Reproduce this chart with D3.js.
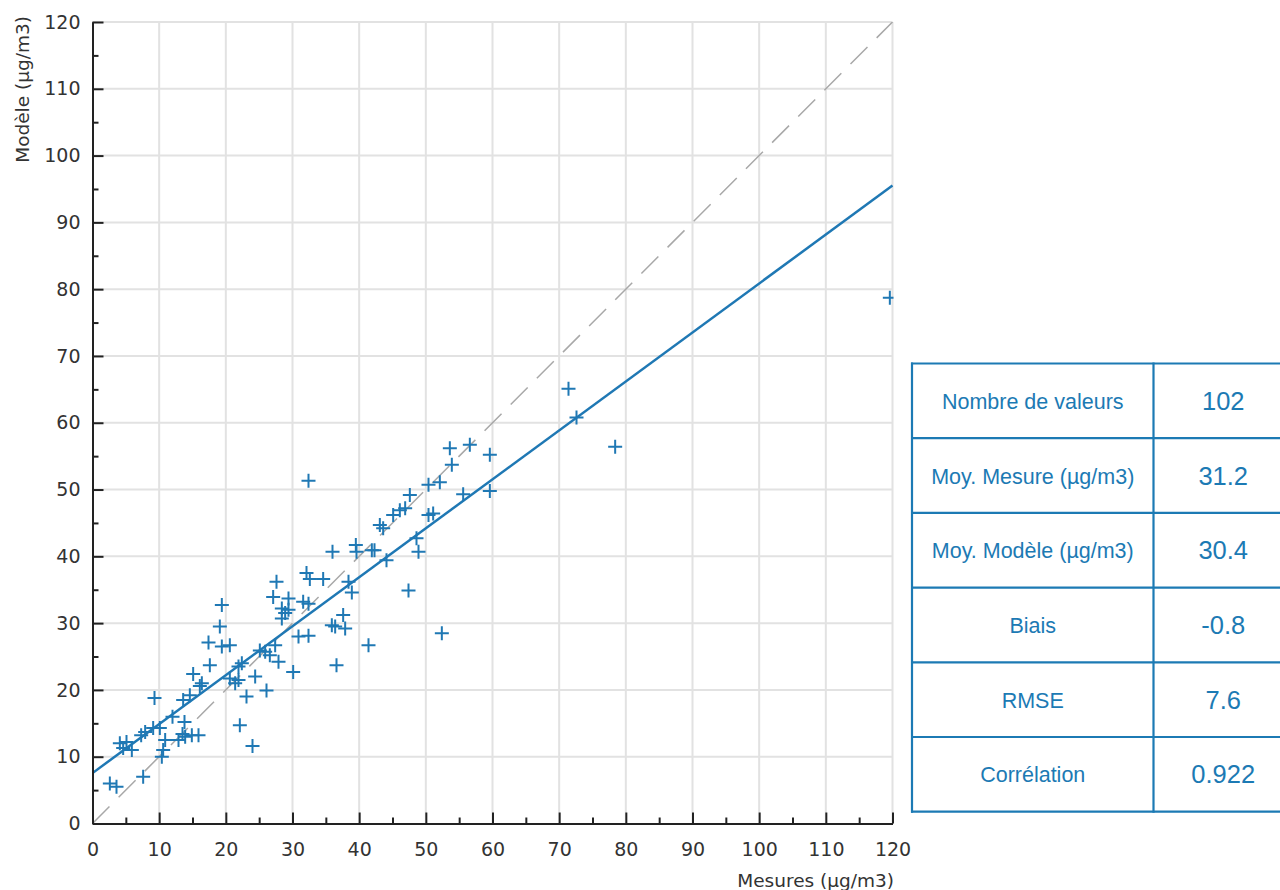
<!DOCTYPE html>
<html>
<head>
<meta charset="utf-8">
<script src="https://cdn.jsdelivr.net/npm/d3@7"></script>
<style>
  html, body { margin: 0; padding: 0; background: #ffffff; }
  svg { display: block; }
</style>
</head>
<body>
<svg id="chart" width="1280" height="890"></svg>
<script>
// Measured vs. modelled concentrations (µg/m3)
const mesures = [
  2.6, 3.6, 7.6, 4.1, 5.1, 4.6, 5.9, 7.3, 7.9, 9.1, 10.1, 10.9, 10.6, 10.4, 12.0, 12.9,
  13.9, 14.9, 15.9, 13.8, 9.3, 13.6, 14.6, 15.1, 16.4, 17.6, 17.4, 19.1, 19.4, 19.4,
  20.6, 20.6, 21.4, 21.9, 22.4, 22.1, 23.1, 24.0, 24.4, 25.1, 25.9, 26.6, 26.1, 27.4,
  27.9, 27.1, 27.6, 28.4, 28.4, 29.4, 29.4, 30.1, 30.9, 32.4, 31.6, 32.4, 32.4, 32.1,
  32.6, 34.6, 36.0, 35.9, 36.4, 36.6, 37.6, 37.9, 38.4, 38.9, 39.5, 39.6, 41.4, 41.9,
  42.3, 43.1, 43.6, 44.1, 45.1, 46.1, 46.9, 47.6, 47.4, 48.6, 48.9, 50.4, 51.1, 50.4,
  52.1, 52.4, 53.6, 53.9, 55.6, 56.6, 59.6, 59.6, 71.4, 72.6, 78.4, 119.6, 21.9, 13.5,
  16.1, 28.9
];
const modele = [
  6.0, 5.5, 7.0, 12.0, 12.2, 11.3, 11.0, 13.2, 13.7, 14.3, 14.3, 12.5, 11.0, 10.0, 16.0, 12.5,
  13.0, 13.2, 13.2, 15.2, 18.8, 18.5, 19.2, 22.4, 21.0, 23.7, 27.1, 29.5, 32.7, 26.5,
  26.7, 21.7, 21.0, 23.5, 24.0, 14.7, 19.0, 11.6, 22.0, 25.9, 25.7, 25.2, 19.9, 26.7,
  24.2, 33.9, 36.2, 32.2, 30.7, 33.7, 32.0, 22.7, 28.0, 28.1, 33.2, 32.9, 51.3, 37.5,
  36.6, 36.6, 40.7, 29.7, 29.5, 23.7, 31.2, 29.2, 36.2, 34.6, 41.7, 40.7, 26.7, 40.9,
  40.9, 44.7, 44.2, 39.4, 46.2, 46.9, 47.2, 49.2, 34.9, 42.7, 40.7, 46.2, 46.4, 50.7,
  51.1, 28.5, 56.2, 53.7, 49.3, 56.7, 55.2, 49.8, 65.1, 60.8, 56.4, 78.7, 21.5, 13.4,
  20.6, 31.5
];

// Least-squares fit (intercept, slope)
const regression = [7.55, 0.733];

// Axis ticks
const majorTicks = [0, 10, 20, 30, 40, 50, 60, 70, 80, 90, 100, 110, 120];
const minorTicks = [5, 15, 25, 35, 45, 55, 65, 75, 85, 95, 105, 115];
const gridTicks = [10, 20, 30, 40, 50, 60, 70, 80, 90, 100, 110, 120];

// Statistics table
const statLabels = ["Nombre de valeurs", "Moy. Mesure (µg/m3)", "Moy. Modèle (µg/m3)", "Biais", "RMSE", "Corrélation"];
const statValues = ["102", "31.2", "30.4", "-0.8", "7.6", "0.922"];

const blue = "#1f78b4";
const svg = d3.select("#chart");

const x = d3.scaleLinear().domain([0, 120]).range([92.5, 892.5]);
const y = d3.scaleLinear().domain([0, 120]).range([823.5, 22]);

const x0 = x(0), x1 = x(120), y0 = y(0), y1 = y(120);

svg.append("defs").append("clipPath").attr("id", "plot-clip")
  .append("rect").attr("x", x0).attr("y", y1).attr("width", x1 - x0 + 1).attr("height", y0 - y1);

// Grid
const grid = svg.append("g");
grid.selectAll("line.v").data(gridTicks).join("line")
  .attr("x1", d => x(d)).attr("x2", d => x(d)).attr("y1", y0).attr("y2", y1)
  .attr("stroke", "#e2e2e2").attr("stroke-width", 2);
grid.selectAll("line.h").data(gridTicks).join("line")
  .attr("x1", x0).attr("x2", x1).attr("y1", d => y(d)).attr("y2", d => y(d))
  .attr("stroke", "#e2e2e2").attr("stroke-width", 2);

const plot = svg.append("g").attr("clip-path", "url(#plot-clip)");

// 1:1 reference line
plot.append("line")
  .attr("x1", x(0)).attr("y1", y(0)).attr("x2", x(120)).attr("y2", y(120))
  .attr("stroke", "#a8a8a8").attr("stroke-width", 1.5)
  .attr("stroke-dasharray", "24,13");

// Regression line
plot.append("line")
  .attr("x1", x(0)).attr("y1", y(regression[0]))
  .attr("x2", x(120)).attr("y2", y(regression[0] + regression[1] * 120))
  .attr("stroke", blue).attr("stroke-width", 2.5);

// Points as "+" markers
const pts = mesures.map((m, i) => [m, modele[i]]);
const arm = 7;
plot.append("g").selectAll("path").data(pts).join("path")
  .attr("d", d => {
    const cx = x(d[0]), cy = y(d[1]);
    return `M${cx - arm},${cy}H${cx + arm}M${cx},${cy - arm}V${cy + arm}`;
  })
  .attr("stroke", blue).attr("stroke-width", 2).attr("fill", "none");

// Axes
const axisFont = "DejaVu Sans, sans-serif";
function styleAxis(g) {
  g.select(".domain").attr("stroke", "#222").attr("stroke-width", 2);
  g.selectAll(".tick line").attr("stroke", "#222").attr("stroke-width", 2);
  g.selectAll(".tick text").attr("fill", "#333").style("font-family", axisFont).style("font-size", "19px");
}

svg.append("g").attr("transform", `translate(${x0},0)`)
  .call(d3.axisLeft(y).tickValues(minorTicks).tickSize(-6).tickFormat("").tickSizeOuter(0))
  .call(styleAxis);
svg.append("g").attr("transform", `translate(${x0},0)`)
  .call(d3.axisLeft(y).tickValues(majorTicks).tickSize(-11).tickPadding(12).tickSizeOuter(0).tickFormat(d3.format("d")))
  .call(styleAxis);

svg.append("g").attr("transform", `translate(0,${y0})`)
  .call(d3.axisBottom(x).tickValues(minorTicks).tickSize(-6).tickFormat("").tickSizeOuter(0))
  .call(styleAxis);
svg.append("g").attr("transform", `translate(0,${y0})`)
  .call(d3.axisBottom(x).tickValues(majorTicks).tickSize(-11).tickPadding(19).tickSizeOuter(0).tickFormat(d3.format("d")))
  .call(styleAxis);

// Axis titles
svg.append("text")
  .attr("transform", "translate(29,16) rotate(-90)")
  .attr("text-anchor", "end")
  .attr("fill", "#333").style("font-family", axisFont).style("font-size", "18.5px")
  .text("Modèle (µg/m3)");
svg.append("text")
  .attr("x", 894).attr("y", 887)
  .attr("text-anchor", "end")
  .attr("fill", "#333").style("font-family", axisFont).style("font-size", "18.5px")
  .text("Mesures (µg/m3)");

// Statistics table
const tbl = { left: 912, split: 1153.5, right: 1293, top: 363.5, rowH: 74.7 };
const tableColor = "#1c7ab4";
const rowsY = d3.scaleLinear().domain([0, statLabels.length]).range([tbl.top, tbl.top + tbl.rowH * statLabels.length]);
const table = svg.append("g");
table.selectAll("line.row").data(d3.range(statLabels.length + 1)).join("line")
  .attr("x1", tbl.left - 1).attr("x2", tbl.right).attr("y1", d => rowsY(d)).attr("y2", d => rowsY(d))
  .attr("stroke", tableColor).attr("stroke-width", 2.2);
[tbl.left, tbl.split, tbl.right].forEach(cx => {
  table.append("line").attr("x1", cx).attr("x2", cx)
    .attr("y1", rowsY(0) - 1).attr("y2", rowsY(statLabels.length) + 1)
    .attr("stroke", tableColor).attr("stroke-width", 2.2);
});
table.selectAll("text.lab").data(statLabels).join("text")
  .attr("x", (tbl.left + tbl.split) / 2).attr("y", (d, i) => rowsY(i) + tbl.rowH / 2 + 8)
  .attr("text-anchor", "middle").attr("fill", tableColor)
  .style("font-family", "Liberation Sans, Arial, sans-serif").style("font-size", "21.5px")
  .text(d => d);
table.selectAll("text.val").data(statValues).join("text")
  .attr("x", (tbl.split + tbl.right) / 2).attr("y", (d, i) => rowsY(i) + tbl.rowH / 2 + 9)
  .attr("text-anchor", "middle").attr("fill", tableColor)
  .style("font-family", "Liberation Sans, Arial, sans-serif").style("font-size", "25.5px")
  .text(d => d);
</script>
</body>
</html>
